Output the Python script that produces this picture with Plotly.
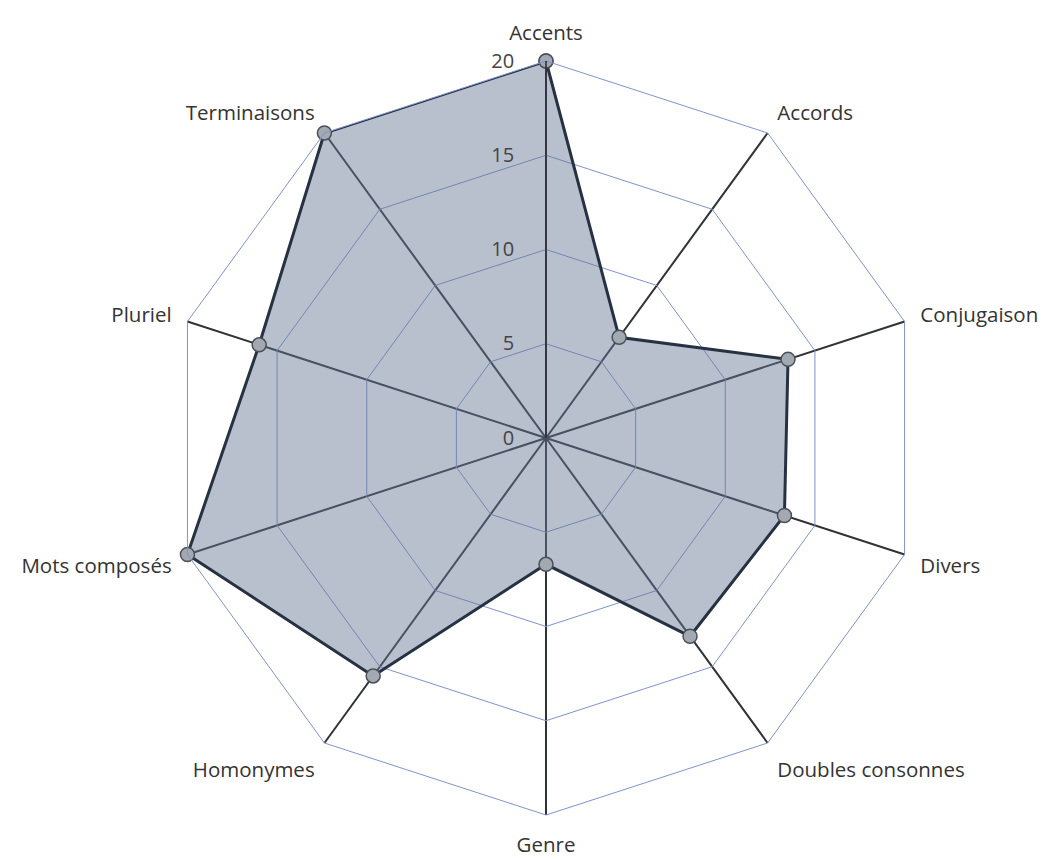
import plotly.graph_objects as go

categories = ["Accents", "Accords", "Conjugaison", "Divers", "Doubles consonnes",
              "Genre", "Homonymes", "Mots composés", "Pluriel", "Terminaisons"]
values = [20, 6.6, 13.5, 13.3, 13.0, 6.7, 15.6, 20, 16.0, 20]
radial_ticks = [0, 5, 10, 15, 20]

W, H = 1048, 860
OFF = 8  # default page body margin
cx, cy, R = 546 - OFF, 438 - OFF, 377

fig = go.Figure()
fig.add_trace(go.Scatterpolar(
    r=values + values[:1],
    theta=categories + categories[:1],
    mode="lines+markers",
    fill="toself",
    fillcolor="rgba(100,118,148,0.46)",
    line=dict(color="#263142", width=3),
    marker=dict(size=14, color="#a3a9b1",
                line=dict(color="#4a5059", width=1.5)),
    showlegend=False,
    hoverinfo="r+theta",
))

fig.update_layout(
    width=W, height=H,
    margin=dict(l=0, r=0, t=0, b=0),
    paper_bgcolor="white",
    font=dict(family="Open Sans, Noto Sans, sans-serif", color="#333333", size=20),
    polar=dict(
        domain=dict(x=[(cx - R) / W, (cx + R) / W], y=[1 - (cy + R) / H, 1 - (cy - R) / H]),
        gridshape="linear",
        bgcolor="white",
        angularaxis=dict(
            direction="clockwise", rotation=90,
            showline=True, linecolor="#7f94cc", linewidth=1,
            gridcolor="#2f3236", gridwidth=1.6,
            ticks="outside", ticklen=12, tickcolor="rgba(0,0,0,0)",
            tickfont=dict(size=20.5, color="#333333"),
        ),
        radialaxis=dict(
            range=[0, 20], angle=90, side="counterclockwise",
            tickvals=radial_ticks, ticktext=[str(v) for v in radial_ticks],
            tickangle=90,
            showline=True, linecolor="#2f3236", linewidth=1.6,
            gridcolor="#7f94cc", gridwidth=1,
            ticks="outside", ticklen=24, tickcolor="rgba(0,0,0,0)",
            tickfont=dict(size=20, color="#444444"),
        ),
    ),
)

fig.write_html("out.html")
